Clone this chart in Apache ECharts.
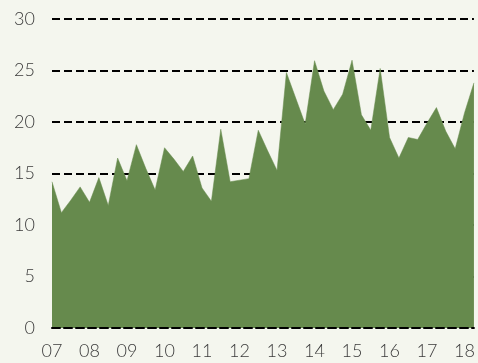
<!DOCTYPE html>
<html>
<head>
<meta charset="utf-8">
<script src="https://cdn.jsdelivr.net/npm/echarts@6/dist/echarts.min.js"></script>
<style>
  html, body { margin: 0; padding: 0; background: #f4f6ee; }
  #chart { width: 478px; height: 363px; }
</style>
</head>
<body>
<div id="chart"></div>
<script>
// Year labels shown under the axis (one per four quarters)
const yearLabels = ['07', '08', '09', '10', '11', '12', '13', '14', '15', '16', '17', '18'];
const quartersPerYear = 4;

// Quarterly values, 2007 Q1 through 2018 Q2
const values = [
  14.2, 11.2, 12.4, 13.7,
  12.2, 14.6, 11.9, 16.5,
  14.3, 17.8, 15.5, 13.4,
  17.5, 16.4, 15.2, 16.7,
  13.6, 12.3, 19.3, 14.2,
  14.35, 14.5, 19.2, 17.2,
  15.3, 24.8, 22.3, 19.8,
  25.95, 23.0, 21.2, 22.7,
  26.0, 20.7, 19.2, 25.2,
  18.5, 16.5, 18.5, 18.3,
  19.9, 21.4, 19.1, 17.4,
  20.9, 23.8
];

const yTicks = [0, 5, 10, 15, 20, 25, 30];

// One category per quarter; only the first quarter of a year carries a label
const categories = values.map((v, i) => {
  const y = Math.floor(i / quartersPerYear);
  return (i % quartersPerYear === 0 && y < yearLabels.length) ? yearLabels[y] : '';
});

const labelFont = { color: '#3a3a3a', fontFamily: 'Lato', fontWeight: 300, fontSize: 18 };

const chart = echarts.init(document.getElementById('chart'));
chart.setOption({
  backgroundColor: '#f4f6ee',
  animation: false,
  grid: { left: 52, right: 4, top: 19, bottom: 35 },
  xAxis: {
    type: 'category',
    data: categories,
    boundaryGap: false,
    z: 3,
    axisLine: { show: true, lineStyle: { color: '#000', width: 2, type: [8, 4] } },
    axisTick: { show: false },
    splitLine: { show: false },
    axisLabel: Object.assign({ interval: 0, margin: 14 }, labelFont)
  },
  yAxis: {
    type: 'value',
    min: yTicks[0],
    max: yTicks[yTicks.length - 1],
    interval: 5,
    axisLine: { show: false },
    axisTick: { show: false },
    splitLine: { show: true, lineStyle: { color: '#000', width: 2, type: [8, 4] } },
    axisLabel: Object.assign({ margin: 17 }, labelFont)
  },
  series: [{
    type: 'line',
    data: values,
    symbol: 'none',
    lineStyle: { width: 0.5, color: '#668a4d' },
    areaStyle: { color: '#668a4d', opacity: 1 }
  }]
});
</script>
</body>
</html>
